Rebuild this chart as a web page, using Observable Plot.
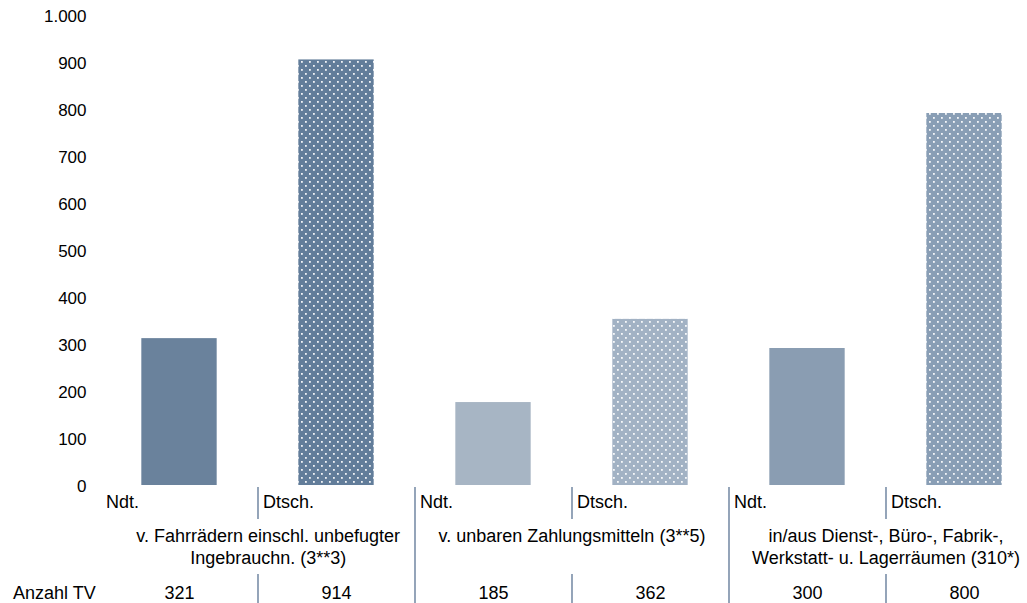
<!DOCTYPE html>
<html><head><meta charset="utf-8">
<script src="https://cdn.jsdelivr.net/npm/d3@7"></script>
<script src="https://cdn.jsdelivr.net/npm/@observablehq/plot@0.6"></script>
<style>
body{margin:0;background:#fff;}
svg{display:block}
</style>
</head><body><div id="chart"></div>
<script>
// ---- data ----
const categories = [
  "v. Fahrrädern einschl. unbefugter\nIngebrauchn. (3**3)",
  "v. unbaren Zahlungsmitteln (3**5)",
  "in/aus Dienst-, Büro-, Fabrik-,\nWerkstatt- u. Lagerräumen (310*)"
];
const groups = ["Ndt.", "Dtsch."];
const anzahlTV = [321, 914, 185, 362, 300, 800];
const rowLabel = "Anzahl TV";
const yTicks = [0, 100, 200, 300, 400, 500, 600, 700, 800, 900, 1000];
const solidColors = ["#6a829c", "#a7b5c4", "#8a9db2"];
const dotBaseColors = ["#627d9a", "#a2b2c4", "#899eb5"];
const sepColor = "#7a8ea8";

// ---- derived table ----
const data = [];
categories.forEach((c, ci) => groups.forEach((g, gi) => {
  const i = ci * 2 + gi;
  data.push({i, ci, gi, group: g, value: anzahlTV[i],
    fill: gi === 0 ? solidColors[ci] : `url(#dots${ci})`});
}));
const seps = d3.range(1, 6).map(i => ({x: i - 0.5, long: i % 2 === 0}));
// label centre between the two bars of a category (first one sits slightly right)
const catLabels = categories.map((c, ci) => ({x: ci * 2 + 0.5 + (ci === 0 ? 0.065 : 0), text: c}));

const de = d3.formatLocale({decimal: ",", thousands: ".", grouping: [3], currency: ["", " €"]});
const fmt = de.format(",");
const FONT = "Liberation Sans, Arial, sans-serif";
const FS = 18;

const svg = Plot.plot({
  width: 1027,
  height: 603,
  marginTop: 19,
  marginBottom: 114,
  marginLeft: 100.5,
  marginRight: 0,
  style: {fontFamily: FONT, fontSize: FS + "px", color: "#000", background: "#fff"},
  x: {type: "linear", domain: [-0.5, 5.5], range: [100.5, 1042.5], axis: null},
  y: {domain: [0, 1000], axis: null},
  marks: [
    Plot.rectY(data, {x1: d => d.i - 0.24, x2: d => d.i + 0.24, y1: 0, y2: "value", fill: "fill", insetBottom: 4}),
    Plot.axisY({ticks: yTicks, tickFormat: fmt, label: null, tickSize: 0, tickPadding: 14.5, dy: -3, fontSize: 17, fill: "#000"}),
    // separators
    Plot.ruleX(seps, {x: "x", y1: 4, y2: d => d.long ? -243 : -64, stroke: sepColor, strokeWidth: 1.6}),
    Plot.ruleX(seps.filter(d => !d.long), {x: "x", y1: -181, y2: -243, stroke: sepColor, strokeWidth: 1.6}),
    // group labels
    Plot.text(data, {x: d => d.i - 0.5, y: 0, text: "group", dx: 5, dy: 6, textAnchor: "start", lineAnchor: "top", fontSize: FS, fill: "#000"}),
    // category labels
    Plot.text(catLabels, {x: "x", y: 0, text: "text", dy: 37, lineAnchor: "top", lineHeight: 22 / FS, fontSize: FS, fill: "#000"}),
    // counts
    Plot.text(data, {x: "i", y: 0, text: d => String(d.value), dy: 97, lineAnchor: "top", fontSize: FS, fill: "#000"}),
    Plot.text([rowLabel], {frameAnchor: "bottom-left", text: d => d, dx: -88, dy: 97, textAnchor: "start", lineAnchor: "top", fontSize: FS, fill: "#000"})
  ]
});

const defs = d3.select(svg).insert("defs", ":first-child");
dotBaseColors.forEach((c, ci) => {
  const p = defs.append("pattern").attr("id", "dots" + ci)
    .attr("patternUnits", "userSpaceOnUse").attr("width", 8).attr("height", 8);
  p.append("rect").attr("width", 8).attr("height", 8).attr("fill", c);
  p.append("rect").attr("x", 1).attr("y", 1).attr("width", 1.8).attr("height", 1.8).attr("fill", "#fff").attr("opacity", 0.9);
  p.append("rect").attr("x", 5).attr("y", 5).attr("width", 1.8).attr("height", 1.8).attr("fill", "#fff").attr("opacity", 0.9);
});

document.getElementById("chart").appendChild(svg);
</script>
</body></html>
